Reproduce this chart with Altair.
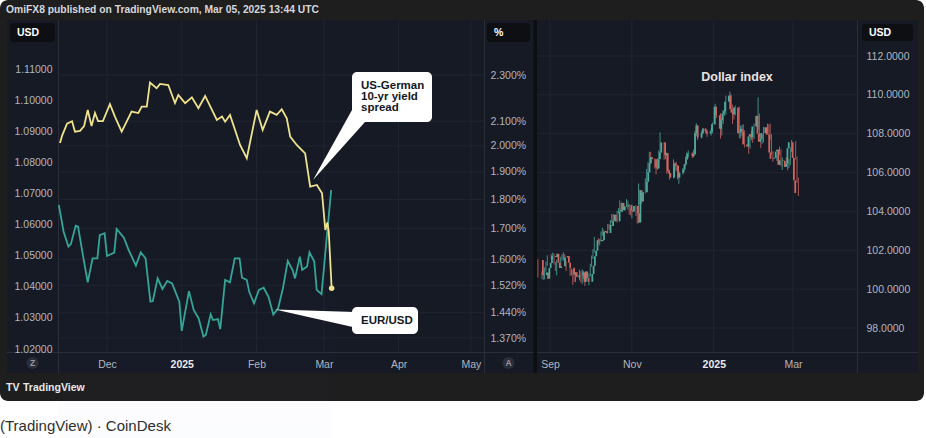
import altair as alt
import numpy as np
import pandas as pd

# ---------------- data ----------------
# EUR/USD (left, USD axis)
eur_dates = [
    "2024-11-11", "2024-11-13", "2024-11-15", "2024-11-16", "2024-11-18", "2024-11-19", "2024-11-21", "2024-11-23",
    "2024-11-25", "2024-11-27", "2024-11-28", "2024-11-30", "2024-12-01", "2024-12-04", "2024-12-05", "2024-12-08",
    "2024-12-10", "2024-12-13", "2024-12-15", "2024-12-17", "2024-12-19", "2024-12-20", "2024-12-22", "2024-12-24",
    "2024-12-26", "2024-12-28", "2024-12-31", "2025-01-01", "2025-01-04", "2025-01-06", "2025-01-08", "2025-01-10",
    "2025-01-11", "2025-01-13", "2025-01-14", "2025-01-16", "2025-01-17", "2025-01-19", "2025-01-21", "2025-01-23",
    "2025-01-25", "2025-01-26", "2025-01-28", "2025-01-29", "2025-01-31", "2025-02-02", "2025-02-04", "2025-02-06",
    "2025-02-08", "2025-02-10", "2025-02-12", "2025-02-14", "2025-02-16", "2025-02-17", "2025-02-19", "2025-02-20",
    "2025-02-22", "2025-02-23", "2025-02-25", "2025-02-26", "2025-02-28", "2025-03-04"]
eur_values = [
    1.0663, 1.0577, 1.0529, 1.0537, 1.0596, 1.0593, 1.0502, 1.0414,
    1.0491, 1.0491, 1.0566, 1.0572, 1.0499, 1.0510, 1.0586, 1.0558,
    1.0518, 1.0468, 1.0511, 1.0491, 1.0352, 1.0354, 1.0427, 1.0393,
    1.0419, 1.0411, 1.0352, 1.0258, 1.0386, 1.0325, 1.0299, 1.0240,
    1.0245, 1.0311, 1.0293, 1.0296, 1.0264, 1.0422, 1.0414, 1.0491,
    1.0491, 1.0429, 1.0422, 1.0384, 1.0347, 1.0390, 1.0397, 1.0368,
    1.0311, 1.0331, 1.0395, 1.0483, 1.0454, 1.0427, 1.0497, 1.0454,
    1.0465, 1.0511, 1.0481, 1.0390, 1.0376, 1.0711]

# US-German 10-yr yield spread (% axis, log)
spread_dates = [
    "2024-11-11T12:00", "2024-11-12T08:00", "2024-11-14T10:00", "2024-11-16T12:00", "2024-11-17T17:00", "2024-11-19T19:00",
    "2024-11-21T12:00", "2024-11-23T00:00", "2024-11-24T14:00", "2024-11-26T00:00", "2024-11-27T07:00", "2024-11-29T07:00",
    "2024-12-02T05:00", "2024-12-04T07:00", "2024-12-07T02:00", "2024-12-11T05:00", "2024-12-14T00:00", "2024-12-15T10:00",
    "2024-12-17T12:00", "2024-12-18T20:00", "2024-12-21T14:00", "2024-12-23T00:00", "2024-12-26T10:00", "2024-12-29T05:00",
    "2024-12-30T14:00", "2025-01-02T10:00", "2025-01-05T05:00", "2025-01-07T22:00", "2025-01-10T17:00", "2025-01-15T14:00",
    "2025-01-17T17:00", "2025-01-19T00:00", "2025-01-21T01:00", "2025-01-25T05:00", "2025-01-28T00:00", "2025-02-01T02:00",
    "2025-02-03T14:00", "2025-02-06T14:00", "2025-02-09T10:00", "2025-02-11T12:00", "2025-02-13T14:00", "2025-02-15T00:00",
    "2025-02-17T17:00", "2025-02-21T05:00", "2025-02-23T07:00", "2025-02-26T02:00", "2025-02-28T05:00", "2025-03-01T14:00",
    "2025-03-02T10:00", "2025-03-03T00:00", "2025-03-04T05:00"]
spread_values = [
    2.012, 2.04, 2.09, 2.10, 2.057, 2.06, 2.08, 2.147, 2.08, 2.134, 2.10, 2.10,
    2.172, 2.119, 2.057, 2.14, 2.134, 2.161, 2.161, 2.266, 2.241, 2.26, 2.255, 2.176,
    2.211, 2.176, 2.201, 2.154, 2.207, 2.105, 2.119, 2.098, 2.126, 2.004, 1.952, 2.147,
    2.064, 2.14, 2.126, 2.15, 2.112, 2.037, 2.004, 1.971, 1.846, 1.852, 1.822, 1.695,
    1.72, 1.69, 1.511]

# Dollar index daily candles (trading days)
dxy_start, dxy_end = "2024-08-23", "2025-03-05"
dxy_holidays = ["2024-12-25", "2025-01-01"]
dxy_first_open = 101.50
dxy_close = [
    100.72, 100.86, 100.54, 101.09, 101.35, 101.70,
    101.65, 101.82, 101.36, 101.09, 101.18, 101.63, 101.63, 101.70, 101.36, 101.10, 100.76, 100.87, 100.63, 100.61,
    100.72, 100.86, 100.37, 100.91, 100.56, 100.38, 100.78,
    101.20, 101.69, 101.98, 102.52, 102.47, 102.53, 102.94, 102.99, 102.89, 103.29, 103.25, 103.50, 103.83, 103.49,
    104.00, 104.09, 104.44, 104.06, 104.26, 104.32, 104.32, 104.06, 103.99,
    104.28, 103.90, 103.43, 105.08, 104.51, 104.99, 105.52, 106.01, 106.48, 106.79, 106.69, 106.28, 106.21, 106.68,
    107.03, 107.55, 106.90, 107.00, 106.08, 105.98, 105.74,
    106.46, 106.36, 106.35, 105.74, 105.99, 106.16, 106.41, 106.68, 106.97, 106.99, 106.85, 106.95, 108.03, 108.42,
    107.81, 108.04, 108.26, 108.13, 108.00, 108.13, 108.49,
    109.39, 108.95, 108.26, 108.69, 109.05, 109.16, 109.65, 109.96, 109.26, 109.08, 109.00, 109.35, 108.03, 108.07,
    108.25, 108.12, 107.45, 107.34, 107.86, 107.97, 107.82, 108.37,
    108.92, 108.00, 107.59, 107.72, 108.04, 108.33, 107.95, 107.94, 107.03, 106.71, 106.77, 107.08, 107.17, 106.40,
    106.63, 106.60, 106.29, 106.44, 107.25, 107.56,
    106.75, 105.60, 104.95]
dxy_high = [
    101.55, 100.92, 100.95, 101.12, 101.42, 101.74,
    101.80, 101.88, 101.84, 101.42, 101.51, 101.67, 101.80, 101.90, 101.80, 101.45, 101.15, 101.06, 101.00, 101.05,
    100.85, 101.00, 100.93, 101.02, 100.95, 100.64, 100.82,
    101.31, 101.73, 102.06, 102.69, 102.63, 102.58, 102.97, 103.17, 103.06, 103.36, 103.35, 103.56, 103.87, 103.88,
    104.03, 104.17, 104.57, 104.45, 104.33, 104.63, 104.56, 104.38, 104.15,
    104.36, 104.32, 103.97, 105.44, 105.12, 105.10, 105.70, 106.18, 106.53, 107.07, 107.07, 106.73, 106.48, 106.74,
    107.14, 108.07, 107.57, 107.33, 107.03, 106.20, 106.14,
    106.68, 106.52, 106.55, 106.40, 106.09, 106.24, 106.45, 106.83, 107.05, 107.14, 107.04, 107.18, 108.15, 108.54,
    108.45, 108.16, 108.30, 108.28, 108.20, 108.26, 108.58,
    109.54, 109.39, 109.05, 108.80, 109.22, 109.25, 109.96, 110.17, 110.02, 109.50, 109.25, 109.45, 109.40, 108.42,
    108.45, 108.49, 108.18, 107.50, 107.97, 108.15, 108.10, 108.52,
    109.88, 109.04, 108.00, 107.97, 108.35, 108.52, 108.48, 108.52, 107.98, 107.10, 106.90, 107.20, 107.33, 107.20,
    106.78, 106.79, 106.75, 106.69, 107.30, 107.68,
    107.62, 106.82, 105.74]
dxy_low = [
    100.60, 100.53, 100.47, 100.50, 100.90, 101.20,
    101.55, 101.55, 101.27, 100.93, 100.71, 101.10, 101.47, 101.47, 101.28, 100.93, 100.68, 100.70, 100.21, 100.38,
    100.36, 100.45, 100.34, 100.26, 100.52, 100.16, 100.20,
    100.65, 101.15, 101.55, 101.88, 102.35, 102.25, 102.45, 102.75, 102.80, 102.85, 103.06, 103.22, 103.41, 103.43,
    103.43, 103.90, 104.01, 103.99, 103.96, 104.23, 104.10, 103.83, 103.80,
    103.64, 103.76, 103.37, 103.40, 104.37, 104.38, 104.93, 105.44, 105.95, 106.38, 106.43, 106.21, 105.90, 106.14,
    106.57, 106.99, 106.65, 106.69, 105.94, 105.94, 105.63,
    105.70, 106.13, 106.08, 105.65, 105.42, 105.89, 106.06, 106.35, 106.64, 106.78, 106.75, 106.78, 106.90, 107.88,
    107.68, 107.75, 107.97, 108.02, 107.83, 107.90, 108.02,
    108.46, 108.81, 107.75, 107.91, 108.50, 108.92, 108.98, 109.61, 109.13, 108.50, 108.73, 108.95, 107.76, 107.77,
    107.90, 107.88, 107.29, 106.96, 107.23, 107.66, 107.53, 107.72,
    108.20, 107.80, 107.26, 107.48, 107.55, 108.00, 107.90, 107.70, 106.95, 106.56, 106.60, 106.62, 106.91, 106.32,
    106.13, 106.33, 106.12, 106.23, 106.38, 107.06,
    106.67, 105.48, 104.80]

# axis ticks
usd_ticks = [1.02, 1.03, 1.04, 1.05, 1.06, 1.07, 1.08, 1.09, 1.10, 1.11]
pct_ticks = [1.37, 1.44, 1.52, 1.60, 1.70, 1.80, 1.90, 2.00, 2.10, 2.30]
dxy_ticks = [98, 100, 102, 104, 106, 108, 110, 112]
left_months = ["2024-12-01", "2025-01-01", "2025-02-01", "2025-03-01", "2025-04-01", "2025-05-01"]
right_months = ["2024-09-01", "2024-11-01", "2025-01-01", "2025-03-01"]

# ---------------- tables ----------------
eur_df = pd.DataFrame({"date": eur_dates, "v": eur_values})
spread_df = pd.DataFrame({"date": spread_dates, "v": spread_values})
dxy_days = pd.bdate_range(dxy_start, dxy_end)
dxy_days = dxy_days[~dxy_days.isin(pd.to_datetime(dxy_holidays))]
assert len(dxy_days) == len(dxy_close) == len(dxy_high) == len(dxy_low)
c = np.array(dxy_close)
o = np.concatenate([[dxy_first_open], c[:-1]])
dxy_df = pd.DataFrame({
    "date": dxy_days.strftime("%Y-%m-%dT00:00:00"),
    "o": o, "c": c,
    "h": np.maximum.reduce([np.array(dxy_high), o, c]),
    "l": np.minimum.reduce([np.array(dxy_low), o, c]),
})
dxy_df["dir"] = np.where(dxy_df["c"] >= dxy_df["o"], "up", "down")

# ---------------- style ----------------
FONT = "Liberation Sans"
FRAME = "#1e1e1e"
NAVY = "#161a25"
GRID = "#212533"
SEP = "#2a2e39"
LBL = "#b2b5be"
TEAL = "#35a597"
YELLOW = "#efe28c"
UP = "#4fa99c"
DOWN = "#d0665f"
BADGE = "#0e0f12"

one = pd.DataFrame({"k": [0]})


def dt(s):
    t = pd.Timestamp(s)
    return alt.DateTime(year=t.year, month=t.month, date=t.day, hours=t.hour, minutes=t.minute)


def rect(x, x2, y, y2, color, r=0):
    return alt.Chart(one).mark_rect(color=color, cornerRadius=r).encode(
        x=alt.value(x), x2=alt.value(x2), y=alt.value(y), y2=alt.value(y2))


def vline(x, y1, y2, color, w=1):
    return alt.Chart(one).mark_rule(color=color, strokeWidth=w).encode(
        x=alt.value(x), y=alt.value(y1), y2=alt.value(y2))


def hline(y, x1, x2, color, w=1):
    return alt.Chart(one).mark_rule(color=color, strokeWidth=w).encode(
        y=alt.value(y), x=alt.value(x1), x2=alt.value(x2))


def txt(s, x, y, size=10.5, color=LBL, weight="normal", align="left", font=FONT):
    return alt.Chart(one).mark_text(text=s, fontSize=size, color=color, fontWeight=weight,
                                    align=align, baseline="middle", font=font).encode(
        x=alt.value(x), y=alt.value(y))


# scales
xL = alt.Scale(domain=[dt("2024-11-10 16:00"), dt("2025-05-06 10:00")], range=[58, 484], nice=False)
xR = alt.Scale(domain=[dt("2024-08-22 08:00"), dt("2025-04-18 10:00")], range=[537, 858], nice=False)
yUSD = alt.Scale(domain=[1.02, 1.11], range=[349, 69], zero=False, nice=False)
yPct = alt.Scale(type="log", domain=[1.37, 2.30], range=[338, 75], nice=False)
yDXY = alt.Scale(domain=[98, 112], range=[328, 56], zero=False, nice=False)

common = dict(domain=False, ticks=False, grid=False, labelFont=FONT, labelFontSize=10.5,
              zindex=1, title=None, labelFlush=False, labelOverlap=False)
usd_axis = alt.Axis(orient="left", offset=-58, values=usd_ticks, format=".5f", labelPadding=6,
                    labelColor=LBL, **common)
pct_axis = alt.Axis(orient="right", offset=-442, values=pct_ticks, labelPadding=6, labelColor=LBL,
                    labelExpr="format(datum.value, '.3f') + '%'", **common)
dxy_axis = alt.Axis(orient="right", offset=-68, values=dxy_ticks, format=".4f", labelPadding=8,
                    labelColor=LBL, **common)
month_expr = "month(datum.value) == 0 ? timeFormat(datum.value, '%Y') : timeFormat(datum.value, '%b')"
bold_cond = {"condition": {"test": "month(datum.value) == 0", "value": "bold"}, "value": "normal"}
col_cond = {"condition": {"test": "month(datum.value) == 0", "value": "#e8eaef"}, "value": LBL}
xL_axis = alt.Axis(orient="bottom", offset=-86, values=[dt(s) for s in left_months], labelExpr=month_expr,
                   labelFontWeight=bold_cond, labelColor=col_cond, labelPadding=7, **common)
xR_axis = alt.Axis(orient="bottom", offset=-86, values=[dt(s) for s in right_months], labelExpr=month_expr,
                   labelFontWeight=bold_cond, labelColor=col_cond, labelPadding=7, **common)

layers = []
# page, frame and panels
layers += [rect(0, 926, 0, 438, "#ffffff"), rect(0, 924, 0, 401, FRAME, 8), rect(7, 918, 20, 373, NAVY)]

# area glow under EUR/USD
grad = alt.Gradient(gradient="linear", x1=0, x2=0, y1=0, y2=1,
                    stops=[alt.GradientStop(color="rgba(60,80,210,0)", offset=0),
                           alt.GradientStop(color="rgba(60,80,210,0.20)", offset=1)])
layers.append(alt.Chart(eur_df).mark_area(color=grad).encode(
    x=alt.X("date:T", scale=xL, axis=None),
    y=alt.Y("v:Q", scale=yUSD, axis=None), y2=alt.value(352)))

# grids (with axes)
layers.append(alt.Chart(pd.DataFrame({"t": pct_ticks})).mark_rule(color=GRID).encode(
    y=alt.Y("t:Q", scale=yPct, axis=pct_axis), x=alt.value(58), x2=alt.value(484)))
layers.append(alt.Chart(pd.DataFrame({"d": [s + "T00:00:00" for s in left_months]})).mark_rule(color=GRID).encode(
    x=alt.X("d:T", scale=xL, axis=xL_axis), y=alt.value(20), y2=alt.value(352)))
layers.append(alt.Chart(pd.DataFrame({"t": dxy_ticks})).mark_rule(color=GRID).encode(
    y=alt.Y("t:Q", scale=yDXY, axis=dxy_axis), x=alt.value(537), x2=alt.value(858)))
layers.append(alt.Chart(pd.DataFrame({"d": [s + "T00:00:00" for s in right_months]})).mark_rule(color=GRID).encode(
    x=alt.X("d:T", scale=xR, axis=xR_axis), y=alt.value(20), y2=alt.value(352)))

# separators
layers += [vline(58.5, 20, 373, SEP), vline(484.5, 20, 373, SEP), vline(857.5, 20, 373, SEP),
           hline(352.5, 7, 918, SEP), rect(533.5, 537, 20, 373, "#0d0e12")]

# badges and buttons
layers += [rect(10, 55, 23, 42, BADGE, 3), txt("USD", 17, 32.5, 10.5, "#ffffff", "bold"),
           rect(487, 530, 23, 42, BADGE, 3), txt("%", 494, 32.5, 10.5, "#ffffff", "bold"),
           rect(862, 913, 24, 41, BADGE, 3), txt("USD", 869, 32.5, 10.5, "#ffffff", "bold")]
for cx in (32.5, 508.5):
    layers.append(alt.Chart(one).mark_circle(size=150, color="#2a2e39", opacity=1).encode(
        x=alt.value(cx), y=alt.value(363)))
layers += [txt("Z", 32.5, 363, 8.5, "#9598a1", "bold", "center"),
           txt("A", 508.5, 363, 8.5, "#9598a1", "bold", "center")]

# series
layers.append(alt.Chart(eur_df).mark_line(color=TEAL, strokeWidth=1.8).encode(
    x=alt.X("date:T", scale=xL, axis=None),
    y=alt.Y("v:Q", scale=yUSD, axis=usd_axis)))
layers.append(alt.Chart(spread_df).mark_line(color=YELLOW, strokeWidth=1.8).encode(
    x=alt.X("date:T", scale=xL, axis=None),
    y=alt.Y("v:Q", scale=yPct, axis=None)))
layers.append(alt.Chart(spread_df.tail(1)).mark_circle(color=YELLOW, size=30, opacity=1).encode(
    x=alt.X("date:T", scale=xL, axis=None),
    y=alt.Y("v:Q", scale=yPct, axis=None)))

candle_color = alt.Color("dir:N", scale=alt.Scale(domain=["up", "down"], range=[UP, DOWN]), legend=None)
layers.append(alt.Chart(dxy_df).mark_rule(strokeWidth=0.8).encode(
    x=alt.X("date:T", scale=xR, axis=None),
    y=alt.Y("l:Q", scale=yDXY, axis=None), y2="h:Q", color=candle_color))
layers.append(alt.Chart(dxy_df).mark_bar(size=1.8).encode(
    x=alt.X("date:T", scale=xR, axis=None),
    y=alt.Y("o:Q", scale=yDXY, axis=None), y2="c:Q", color=candle_color))

# callouts
layers.append(alt.Chart(one).mark_point(shape="M0,0L0.39,-0.70L0.52,-0.58Z", size=40000, filled=True,
                                         color="#ffffff", opacity=1, strokeWidth=0).encode(
    x=alt.value(313), y=alt.value(180)))
layers.append(alt.Chart(one).mark_point(shape="M0,0L0.80,0.025L0.80,0.18Z", size=40000, filled=True,
                                         color="#ffffff", opacity=1, strokeWidth=0).encode(
    x=alt.value(275), y=alt.value(309.5)))
layers += [rect(352, 432, 72, 122, "#ffffff", 5), rect(352, 418, 307, 334, "#ffffff", 5)]
CALL = "#131722"
layers += [txt("US-German", 361, 86, 11.5, CALL, "bold"), txt("10-yr yield", 361, 97, 11.5, CALL, "bold"),
           txt("spread", 361, 108, 11.5, CALL, "bold"), txt("EUR/USD", 361, 321, 11.5, CALL, "bold")]
layers.append(txt("Dollar index", 737, 77, 12.5, "#e9e2e2", "bold", "center"))

# header, footer, caption
layers += [txt("OmiFX8 published on TradingView.com, Mar 05, 2025 13:44 UTC", 6, 10, 10.3, "#d5d7dd", "bold"),
           txt("TV", 6, 388, 10.5, "#e8e8e8", "bold"),
           txt("TradingView", 23, 388, 10.5, "#e8e8e8", "bold"),
           txt("(TradingView)  \u00b7  CoinDesk", 0, 426, 15, "#2e2e2e")]

chart = alt.layer(*layers).resolve_scale(
    x="independent", y="independent", color="independent"
).properties(
    width=926, height=438, padding=0, background="#ffffff",
    autosize=alt.AutoSizeParams(type="none"),
).configure_view(stroke=None)

chart.save("out.html", embed_options={"renderer": "svg", "actions": False})
